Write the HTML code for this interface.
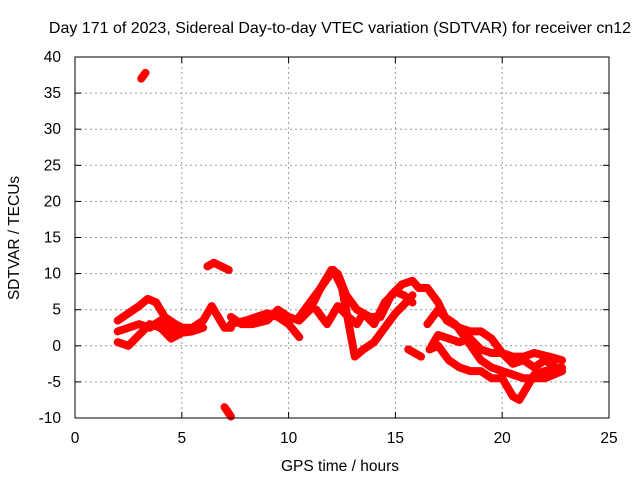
<!DOCTYPE html>
<html><head><meta charset="utf-8"><style>
body{margin:0;background:#fff}
svg text{font-family:"Liberation Sans",sans-serif;font-size:15.5px;fill:#000}
</style></head><body>
<svg width="640" height="480">
<text x="340" y="33" text-anchor="middle" style="font-size:16px">Day 171 of 2023, Sidereal Day-to-day VTEC variation (SDTVAR) for receiver cn12</text>
<text x="340" y="471" text-anchor="middle">GPS time / hours</text>
<text transform="translate(19,238) rotate(-90)" text-anchor="middle">SDTVAR / TECUs</text>
<g id="grid"></g><g id="axes"></g><g id="series"></g>
<rect x="75" y="57" width="534" height="361" fill="none" stroke="#000"/>
</svg>
<script>
const xTicks=[0,5,10,15,20,25];
const yTicks=[-10,-5,0,5,10,15,20,25,30,35,40];
const trackA=[[2,3.5],[2.5,4.5],[3,5.5],[3.4,6.5],[3.8,6],[4.2,4],[4.7,3],[5,2.5]];
const trackB=[[2,2],[2.5,2.5],[3,3],[3.5,2.5],[4,3.5],[4.5,2],[5,2.5],[5.5,2.5],[6,3.5],[6.4,5.5],[6.7,4],[7,2.5],[7.3,2.5]];
const trackC=[[2,0.5],[2.5,0],[3,1.5],[3.5,3],[4,2.5],[4.5,1],[5,1.8],[5.5,2],[6,2.5]];
const trackD=[[7.3,4],[7.8,3],[8.3,3],[9,3.5],[9.5,5],[10,4],[10.5,3.5],[11,5],[11.5,8],[12,10.5],[12.3,10],[12.7,7],[13.2,5],[13.8,4],[14.3,4],[14.8,7],[15.3,8.5],[15.8,9],[16.1,8],[16.5,8],[17,6],[17.4,3.5],[18,2.5],[18.5,2],[19,2],[19.5,1],[20,-1],[20.5,-2.5],[21,-2],[21.5,-3],[22,-2],[22.8,-3.5]];
const trackE=[[7.3,3],[8,3.5],[9,4.5],[9.5,4],[10,3],[10.5,1.2]];
const trackF=[[10.5,4],[11,6],[11.5,8],[12.1,10.5],[12.5,8],[13.1,-1.5],[13.5,-0.5],[14,0.5],[14.5,2.5],[15,4.5],[15.5,6],[15.8,7]];
const trackG=[[11.3,5],[11.8,3],[12.3,5.5],[12.8,4],[13.2,3],[13.5,4.5],[14,3],[14.5,6],[15,7.5],[15.4,7],[15.8,6]];
const trackH=[[15.6,-0.5],[16.2,-1.5]];
const trackI=[[16.7,0],[17,1.5],[17.5,1],[18,0.5],[18.5,1],[19,-0.5],[19.5,-1],[20,-1],[20.5,-1.5],[21,-1.5],[21.5,-1],[22.2,-1.5],[22.8,-2]];
const trackJ=[[16.6,-0.5],[17,0],[17.5,-2],[18,-3],[18.5,-3.5],[19,-3.5],[19.5,-4.5],[20,-4.5],[20.5,-7],[20.8,-7.5],[21.2,-5.5],[21.5,-4],[22,-3.5],[22.8,-3]];
const trackK=[[16.5,3],[17,5],[17.3,4],[17.8,3],[18.3,1],[19,-2],[19.5,-3],[20,-3.5],[21,-4.5],[22,-4.5],[22.8,-3.5]];
const trackL=[[3.1,37],[3.3,37.8]];
const trackM=[[6.2,11],[6.5,11.5],[7.2,10.5]];
const trackN=[[7,-8.5],[7.3,-9.8]];
const tracks=[trackA,trackB,trackC,trackD,trackE,trackF,trackG,trackH,trackI,trackJ,trackK,trackL,trackM,trackN];
const X=t=>75+t*(534/25), Y=v=>418-(v+10)*(361/50);
const NS='http://www.w3.org/2000/svg';
const grid=document.getElementById('grid'),axes=document.getElementById('axes'),ser=document.getElementById('series');
function mk(tag,attrs,parent){const e=document.createElementNS(NS,tag);for(const k in attrs)e.setAttribute(k,attrs[k]);parent.appendChild(e);return e;}
xTicks.forEach(t=>{
 if(t>0&&t<25){const g=mk('line',{x1:X(t),x2:X(t),y1:57,y2:418,stroke:'#999','stroke-dasharray':'2,3'},grid);
 
 }
 mk('line',{x1:X(t),x2:X(t),y1:418,y2:412,stroke:'#000'},axes);mk('line',{x1:X(t),x2:X(t),y1:57,y2:63,stroke:'#000'},axes);
 const l=mk('text',{x:X(t),y:443,'text-anchor':'middle'},axes);l.textContent=t;
 
 
});
yTicks.forEach(v=>{
 if(v>-10&&v<40){const g=mk('line',{x1:75,x2:609,y1:Y(v),y2:Y(v),stroke:'#999','stroke-dasharray':'2,3'},grid);
 
 }
 mk('line',{x1:75,x2:81,y1:Y(v),y2:Y(v),stroke:'#000'},axes);mk('line',{x1:609,x2:603,y1:Y(v),y2:Y(v),stroke:'#000'},axes);
 const l=mk('text',{x:61,y:Y(v)+5,'text-anchor':'end'},axes);l.textContent=v;
 
 
});
tracks.forEach(tr=>{
 const p=mk('polyline',{points:tr.map(d=>X(d[0])+','+Y(d[1])).join(' '),fill:'none',stroke:'#ff0000','stroke-width':8,'stroke-linejoin':'round','stroke-linecap':'round'},ser);
 
 
});
</script>
</body></html>
